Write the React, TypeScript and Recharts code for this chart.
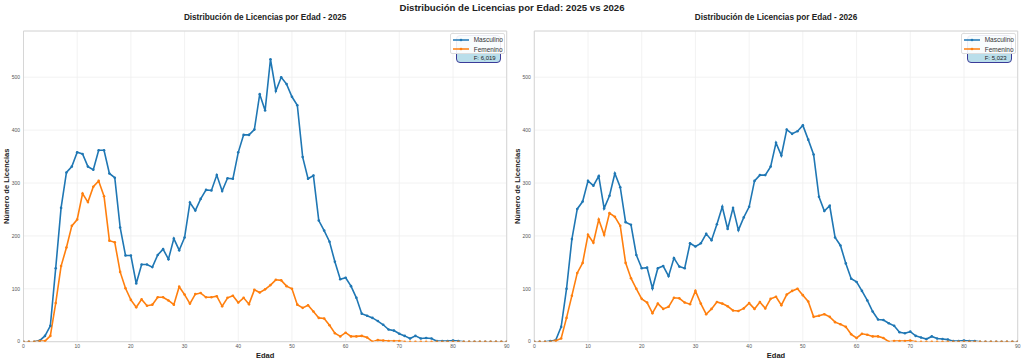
import { LineChart, Line, XAxis, YAxis, CartesianGrid, Legend } from 'recharts'

// edades 0..90
const AGES = [
  0, 1, 2, 3, 4, 5, 6, 7, 8, 9, 10, 11, 12, 13, 14, 15, 16, 17, 18, 19,
  20, 21, 22, 23, 24, 25, 26, 27, 28, 29, 30, 31, 32, 33, 34, 35, 36, 37, 38, 39,
  40, 41, 42, 43, 44, 45, 46, 47, 48, 49, 50, 51, 52, 53, 54, 55, 56, 57, 58, 59,
  60, 61, 62, 63, 64, 65, 66, 67, 68, 69, 70, 71, 72, 73, 74, 75, 76, 77, 78, 79,
  80, 81, 82, 83, 84, 85, 86, 87, 88, 89, 90,
]

const X_TICKS = [0, 10, 20, 30, 40, 50, 60, 70, 80, 90]
const Y_TICKS = [0, 100, 200, 300, 400, 500]

const MASC_2025 = [
  0, 0, 0, 2, 11, 30, 139, 253, 320, 331, 358, 355, 331, 325, 362, 362, 318, 310, 216, 163,
  163, 110, 146, 146, 141, 164, 175, 156, 195, 173, 197, 263, 248, 270, 287, 286, 315, 285, 309, 308,
  358, 391, 391, 401, 468, 437, 534, 474, 500, 487, 463, 447, 349, 308, 314, 229, 210, 189, 151, 118,
  121, 105, 83, 53, 49, 45, 39, 32, 23, 21, 15, 11, 6, 11, 6, 7, 6, 1, 1, 1,
  2, 1, 0, 0, 0, 0, 0, 0, 0, 0, 0,
]
const FEM_2025 = [
  0, 0, 0, 1, 1, 11, 73, 143, 178, 219, 231, 280, 264, 293, 304, 275, 191, 188, 132, 101,
  79, 65, 80, 68, 70, 84, 84, 78, 70, 104, 89, 72, 90, 92, 84, 84, 86, 67, 83, 87,
  74, 83, 71, 98, 93, 99, 107, 117, 116, 105, 100, 70, 64, 69, 57, 45, 44, 31, 16, 10,
  17, 10, 10, 11, 8, 0, 3, 2, 1, 1, 1, 0, 0, 0, 0, 0, 0, 0, 0, 0,
  0, 0, 0, 0, 0, 0, 0, 0, 0, 0, 0,
]
const MASC_2026 = [
  0, 0, 0, 1, 3, 28, 100, 194, 251, 265, 304, 295, 313, 252, 276, 318, 292, 226, 221, 164,
  139, 140, 101, 139, 143, 124, 158, 142, 139, 186, 180, 186, 204, 192, 222, 255, 213, 253, 211, 235,
  255, 304, 315, 315, 331, 376, 352, 401, 393, 398, 409, 382, 354, 274, 247, 257, 197, 182, 148, 119,
  113, 96, 78, 57, 42, 41, 35, 30, 18, 16, 19, 11, 8, 5, 10, 6, 5, 4, 1, 1,
  2, 1, 1, 0, 0, 0, 0, 0, 0, 0, 0,
]
const FEM_2026 = [
  0, 0, 0, 0, 2, 6, 45, 87, 130, 149, 202, 187, 231, 202, 243, 236, 219, 149, 120, 100,
  81, 74, 54, 72, 62, 66, 83, 82, 74, 71, 96, 72, 52, 62, 75, 72, 67, 59, 58, 63,
  73, 62, 75, 63, 81, 85, 69, 89, 96, 100, 88, 76, 47, 49, 52, 47, 37, 33, 28, 14,
  7, 15, 13, 10, 10, 7, 0, 1, 1, 1, 2, 0, 0, 0, 0, 0, 0, 0, 0, 0,
  0, 0, 0, 0, 0, 0, 0, 0, 0, 0, 0,
]

// the upper lines of the stats box sit under the legend in the original
const STATS_2025 = 'F: 6,019'
const STATS_2026 = 'F: 5,023'

const BLUE = '#1f77b4'
const ORANGE = '#ff7f0e'
const FRAME = '#d6d6d6'
const FONT = '"Liberation Sans", Arial, Helvetica, sans-serif'

const Y_MAX = Math.max(...MASC_2025, ...FEM_2025, ...MASC_2026, ...FEM_2026) * 1.1

function buildRows(masc: number[], fem: number[]) {
  return AGES.map((edad, i) => ({ edad, masculino: masc[i], femenino: fem[i] }))
}

function LegendBox({ stat }: { stat: string }) {
  const item = (color: string, label: string) => (
    <div style={{ display: 'flex', alignItems: 'center', height: 9.5 }}>
      <svg width={16} height={6} style={{ marginRight: 5 }}>
        <line x1={0} y1={3} x2={16} y2={3} stroke={color} strokeWidth={1.5} />
        <circle cx={8} cy={3} r={1.3} fill={color} />
      </svg>
      <span>{label}</span>
    </div>
  )
  return (
    <div style={{ position: 'relative', width: 56, height: 31, fontFamily: FONT }}>
      <div
        style={{
          position: 'absolute', left: 6, top: 2, width: 45, height: 28,
          background: 'rgba(173,216,230,0.85)', border: '1px solid #3b3b98',
          borderRadius: 4, fontSize: 6, lineHeight: '7px', textAlign: 'right',
          color: '#222', padding: '19px 4px 0 0', boxSizing: 'border-box',
        }}
      >
        {stat}
      </div>
      <div
        style={{
          position: 'absolute', left: 0, top: 0, width: 55, height: 21,
          background: 'rgba(255,255,255,0.9)', border: '1px solid #dddddd',
          borderRadius: 2, fontSize: 6.5, color: '#333', padding: '1px 0 0 2px',
          boxSizing: 'border-box',
        }}
      >
        {item(BLUE, 'Masculino')}
        {item(ORANGE, 'Femenino')}
      </div>
    </div>
  )
}

function XLabel(props: any) {
  const { x, y, width } = props.viewBox
  return (
    <text x={x + width / 2} y={y + 16} textAnchor="middle" fontFamily={FONT}
      fontSize={7.5} fontWeight="bold" fill="#222">Edad</text>
  )
}

function YLabel(props: any) {
  const { x, y, width, height } = props.viewBox
  const cx = x + width - 17
  const cy = y + height / 2
  return (
    <text x={cx} y={cy} transform={`rotate(-90 ${cx} ${cy})`} textAnchor="middle"
      dominantBaseline="central" fontFamily={FONT} fontSize={7.5} fontWeight="bold" fill="#222">
      Número de Licencias
    </text>
  )
}

const tickStyle = { fontSize: 5, fill: '#555', fontFamily: FONT }

function Panel({ left, year, masc, fem, stat, margin }: {
  left: number; year: string; masc: number[]; fem: number[]; stat: string
  margin: { top: number; right: number; bottom: number; left: number }
}) {
  const rows = buildRows(masc, fem)
  // axes are 1px wide, so the plot box is shifted one pixel inward from the margins
  const plotLeft = margin.left + 1
  const plotRight = 512 - margin.right - 1
  const plotCenter = (plotLeft + plotRight) / 2
  return (
    <div style={{ position: 'absolute', left, top: 0, width: 512, height: 362 }}>
      <div style={{
        position: 'absolute', top: 13, left: plotCenter - 150, width: 300, textAlign: 'center',
        fontFamily: FONT, fontSize: 8.2, fontWeight: 'bold', color: '#222',
      }}>
        Distribución de Licencias por Edad - {year}
      </div>
      <LineChart width={512} height={362} data={rows} margin={margin}>
        <CartesianGrid stroke="#efefef" strokeWidth={0.8} />
        <XAxis
          type="number" dataKey="edad" domain={[0, 90]} ticks={X_TICKS} height={1}
          tickSize={0} tickMargin={2.5} tickLine={false} axisLine={{ stroke: FRAME }}
          tick={tickStyle} allowDataOverflow label={<XLabel />}
        />
        <XAxis xAxisId="top" orientation="top" type="number" domain={[0, 90]} height={1}
          tick={false} tickLine={false} axisLine={{ stroke: FRAME }} />
        <YAxis
          type="number" domain={[0, Y_MAX]} ticks={Y_TICKS} width={1}
          tickSize={0} tickMargin={3.5} tickLine={false} axisLine={{ stroke: FRAME }}
          tick={tickStyle} allowDataOverflow label={<YLabel />}
        />
        <YAxis yAxisId="right" orientation="right" type="number" domain={[0, Y_MAX]} width={1}
          tick={false} tickLine={false} axisLine={{ stroke: FRAME }} />
        <Legend
          layout="vertical" verticalAlign="middle" align="center"
          wrapperStyle={{ top: 33, left: plotRight - 57, width: 56 }}
          content={() => <LegendBox stat={stat} />}
        />
        <Line type="linear" dataKey="masculino" name="Masculino" stroke={BLUE} strokeWidth={1.6}
          dot={{ r: 1.3, fill: BLUE, stroke: BLUE, strokeWidth: 0 }} isAnimationActive={false} />
        <Line type="linear" dataKey="femenino" name="Femenino" stroke={ORANGE} strokeWidth={1.6}
          dot={{ r: 1.3, fill: ORANGE, stroke: ORANGE, strokeWidth: 0 }} isAnimationActive={false} />
      </LineChart>
    </div>
  )
}

export default function App() {
  return (
    <div style={{ position: 'absolute', left: 0, top: 0, width: 1024, height: 362, background: '#fff' }}>
      <div style={{
        position: 'absolute', top: 1.5, left: 0, width: 1024, textAlign: 'center',
        fontFamily: FONT, fontSize: 9.6, fontWeight: 'bold', color: '#222',
      }}>
        Distribución de Licencias por Edad: 2025 vs 2026
      </div>
      <Panel left={0} year="2025" masc={MASC_2025} fem={FEM_2025} stat={STATS_2025}
        margin={{ top: 30, right: 4.3, bottom: 19.3, left: 22.5 }} />
      <Panel left={512} year="2026" masc={MASC_2026} fem={FEM_2026} stat={STATS_2026}
        margin={{ top: 30, right: 5.3, bottom: 19.3, left: 21.3 }} />
    </div>
  )
}
